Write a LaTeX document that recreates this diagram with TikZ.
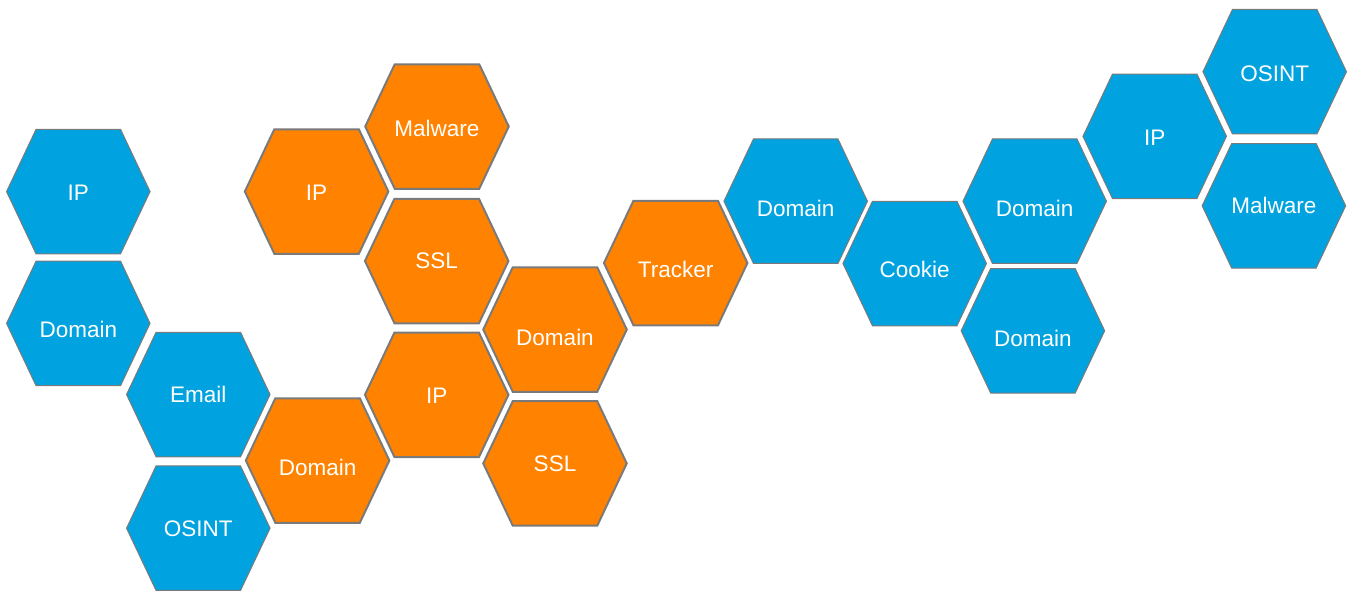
\documentclass[tikz,border=0pt]{standalone}
\usepackage{fontspec}
\setmainfont{Liberation Sans}
\definecolor{hexblue}{HTML}{00A3DF}
\definecolor{hexorange}{HTML}{FF8300}
\definecolor{hexedge}{HTML}{7A7A7A}
\tikzset{
  bluecell/.style={fill=hexblue, draw=hexedge, line width=1pt, line join=miter},
  orangecell/.style={fill=hexorange, draw=hexedge, line width=2pt, line join=miter},
  lbl/.style={text=white, font=\fontsize{22.5}{27}\selectfont, inner sep=0pt, anchor=base}
}
\newcommand\hexcell[6]{%
  \draw[#2] (#3-71.75,#4) -- (#3-42.25,#4-62.25) -- (#3+42.25,#4-62.25) -- (#3+71.75,#4)
     -- (#3+42.25,#4+62.25) -- (#3-42.25,#4+62.25) -- cycle;
  \node[lbl] (#1) at (#3,#5) {#6};}
\begin{document}
\begin{tikzpicture}[x=1pt,y=-1pt]
\useasboundingbox (0,0) rectangle (1351,590);
% left blue group
\hexcell{b1}{bluecell}{78.3}{191.6}{200}{IP}
\hexcell{b2}{bluecell}{78.3}{323.4}{337.7}{Domain}
\hexcell{b3}{bluecell}{198.3}{394.5}{402.7}{Email}
\hexcell{b4}{bluecell}{198.3}{528.2}{536.7}{OSINT}
% orange group
\hexcell{o1}{orangecell}{317.6}{460.5}{475}{Domain}
\hexcell{o2}{orangecell}{316.6}{191.5}{200}{IP}
\hexcell{o3}{orangecell}{437}{126.5}{136}{Malware}
\hexcell{o4}{orangecell}{436.7}{261}{268.7}{SSL}
\hexcell{o5}{orangecell}{436.7}{394.8}{403}{IP}
\hexcell{o6}{orangecell}{555}{329.5}{345}{Domain}
\hexcell{o7}{orangecell}{555}{463.4}{471.7}{SSL}
\hexcell{o8}{orangecell}{675.7}{263}{277.7}{Tracker}
% right blue group
\hexcell{b5}{bluecell}{795.7}{201.2}{216}{Domain}
\hexcell{b6}{bluecell}{914.7}{263.5}{277.7}{Cookie}
\hexcell{b7}{bluecell}{1034.7}{201.2}{216}{Domain}
\hexcell{b8}{bluecell}{1032.9}{330.8}{346}{Domain}
\hexcell{b9}{bluecell}{1154.7}{136.3}{145}{IP}
\hexcell{b10}{bluecell}{1274.7}{71.7}{81}{OSINT}
\hexcell{b11}{bluecell}{1273.9}{205.8}{213.3}{Malware}
\end{tikzpicture}
\end{document}
